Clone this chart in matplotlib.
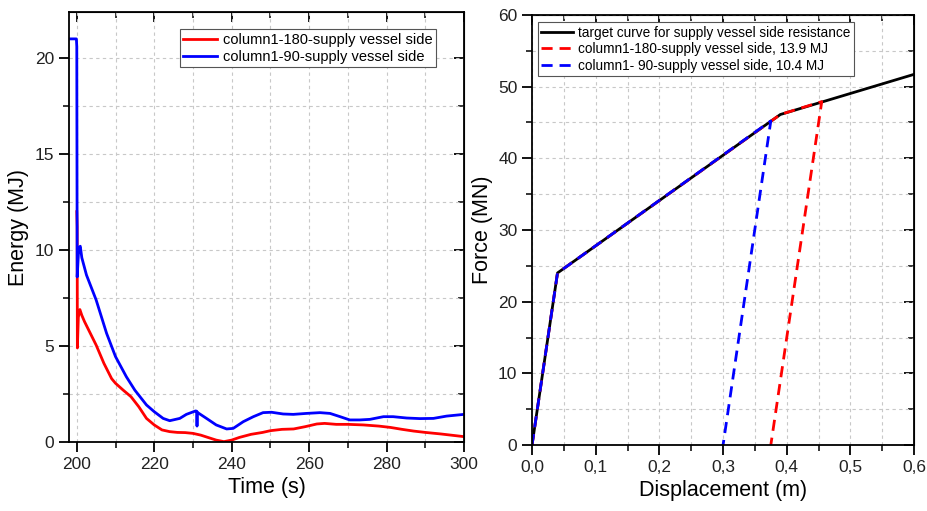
import matplotlib
matplotlib.use("Agg")
import matplotlib.pyplot as plt
from matplotlib.ticker import MultipleLocator, FuncFormatter

plt.rcParams['font.family'] = ['Liberation Sans', 'DejaVu Sans']

# ---- left panel data: energy vs time ----
blue_t = [198.0, 199.9, 200.0, 200.1, 200.5, 200.9, 201.3, 202.5, 205.0, 207.7, 210.0,
          212.8, 215.0, 218.0, 220.0, 222.3, 224.0, 226.6, 228.3, 230.7, 231.0, 231.05,
          231.1, 233.5, 236.0, 238.7, 240.4, 243.0, 245.6, 248.1, 250.3, 253.3, 255.9,
          259.3, 262.8, 265.4, 268.0, 270.5, 273.1, 275.7, 279.2, 281.7, 285.2, 288.6,
          292.1, 295.5, 300.0]
blue_e = [21.0, 21.0, 20.6, 8.6, 10.1, 10.2, 9.6, 8.7, 7.4, 5.66, 4.45,
          3.4, 2.7, 1.93, 1.58, 1.23, 1.11, 1.23, 1.44, 1.62, 1.6, 0.83,
          1.55, 1.23, 0.89, 0.68, 0.71, 1.06, 1.32, 1.53, 1.55, 1.46, 1.44,
          1.49, 1.53, 1.49, 1.32, 1.15, 1.15, 1.18, 1.32, 1.32, 1.25, 1.22,
          1.23, 1.35, 1.44]

red_t = [200.0, 200.1, 200.15, 200.4, 200.8, 201.3, 202.0, 203.5, 205.0, 207.0, 209.0,
         210.0, 212.0, 214.0, 216.0, 218.0, 220.0, 222.0, 224.0, 226.0, 228.0, 230.0,
         232.0, 234.0, 236.0, 238.0, 240.0, 242.0, 245.0, 248.0, 250.0, 253.0, 256.0,
         259.0, 262.0, 264.0, 267.0, 270.0, 274.0, 278.0, 281.0, 284.0, 287.0, 290.0,
         294.0, 297.0, 300.0]
red_e = [12.0, 11.2, 4.9, 6.5, 6.9, 6.6, 6.27, 5.66, 5.05, 4.1, 3.3,
         3.06, 2.7, 2.36, 1.84, 1.23, 0.89, 0.63, 0.54, 0.5, 0.49, 0.45,
         0.36, 0.23, 0.1, 0.02, 0.1, 0.24, 0.4, 0.5, 0.59, 0.66, 0.68,
         0.8, 0.94, 0.97, 0.92, 0.92, 0.89, 0.83, 0.76, 0.66, 0.57, 0.5,
         0.42, 0.35, 0.28]

# ---- right panel data: force vs displacement ----
target_d = [0.0, 0.04, 0.39, 0.6]
target_f = [0.0, 24.0, 46.1, 51.7]
c180_d = [0.0, 0.04, 0.39, 0.455, 0.375]
c180_f = [0.0, 24.0, 46.1, 47.9, 0.0]
c90_d = [0.0, 0.04, 0.375, 0.30]
c90_f = [0.0, 24.0, 45.2, 0.0]

fig = plt.figure(figsize=(9.28, 5.11), dpi=100)
ax1 = fig.add_axes([0.0744, 0.135, 0.4256, 0.8415])
ax2 = fig.add_axes([0.5733, 0.129, 0.4117, 0.842])

grid_kw = dict(color='#c8c8c8', linestyle=(0, (3, 3)), linewidth=0.8)

def style(ax, xmaj, xmin, ymaj, ymin):
    ax.xaxis.set_major_locator(MultipleLocator(xmaj))
    ax.xaxis.set_minor_locator(MultipleLocator(xmin))
    ax.yaxis.set_major_locator(MultipleLocator(ymaj))
    ax.yaxis.set_minor_locator(MultipleLocator(ymin))
    ax.grid(True, which='both', **grid_kw)
    ax.set_axisbelow(True)
    for s in ax.spines.values():
        s.set_linewidth(1.3)
    ax.tick_params(which='major', direction='out', length=7, width=1.3, labelsize=12.5,
                   labelcolor='#222222')
    ax.tick_params(which='minor', direction='out', length=4, width=1.1)
    # mirrored ticks pointing inward on top and right
    top = ax.secondary_xaxis('top')
    top.xaxis.set_major_locator(MultipleLocator(xmaj))
    top.xaxis.set_minor_locator(MultipleLocator(xmin))
    top.tick_params(which='major', direction='in', length=7, width=1.3, labeltop=False)
    top.tick_params(which='minor', direction='in', length=4, width=1.1)
    right = ax.secondary_yaxis('right')
    right.yaxis.set_major_locator(MultipleLocator(ymaj))
    right.yaxis.set_minor_locator(MultipleLocator(ymin))
    right.tick_params(which='major', direction='in', length=7, width=1.3, labelright=False)
    right.tick_params(which='minor', direction='in', length=4, width=1.1)

leg_kw = dict(frameon=True, fancybox=False, edgecolor='#555555', framealpha=1,
              handlelength=2.3, borderpad=0.25, labelspacing=0.2, handletextpad=0.4,
              borderaxespad=0)

# left panel
ax1.plot(red_t, red_e, color='#ff0000', lw=2.0, label='column1-180-supply vessel side')
ax1.plot(blue_t, blue_e, color='#0000ff', lw=2.0, label='column1-90-supply vessel side')
ax1.set_xlim(198, 300)
ax1.set_ylim(0, 22.4)
style(ax1, 20, 10, 5, 2.5)
ax1.set_xlabel('Time (s)', fontsize=15.5)
ax1.set_ylabel('Energy (MJ)', fontsize=15.5)
leg1 = ax1.legend(loc='upper right', bbox_to_anchor=(0.929, 0.96), fontsize=10.5, **leg_kw)
leg1.get_frame().set_linewidth(0.8)

# right panel
ax2.plot(target_d, target_f, color='black', lw=2.0,
         label='target curve for supply vessel side resistance')
ax2.plot(c180_d, c180_f, color='#ff0000', lw=2.0, linestyle=(0, (4, 2.5)),
         label='column1-180-supply vessel side, 13.9 MJ')
ax2.plot(c90_d, c90_f, color='#0000ff', lw=2.0, linestyle=(0, (4, 2.5)),
         label='column1- 90-supply vessel side, 10.4 MJ')
ax2.set_xlim(0, 0.6)
ax2.set_ylim(0, 60)
style(ax2, 0.1, 0.05, 10, 5)
ax2.xaxis.set_major_formatter(FuncFormatter(lambda v, p: f"{v:.1f}".replace('.', ',')))
ax2.set_xlabel('Displacement (m)', fontsize=15.5)
ax2.set_ylabel('Force (MN)', fontsize=15.5)
leg2 = ax2.legend(loc='upper left', bbox_to_anchor=(0.0157, 0.983), fontsize=9.8, **leg_kw)
leg2.get_frame().set_linewidth(0.8)

fig.savefig('out.png', dpi=100)
